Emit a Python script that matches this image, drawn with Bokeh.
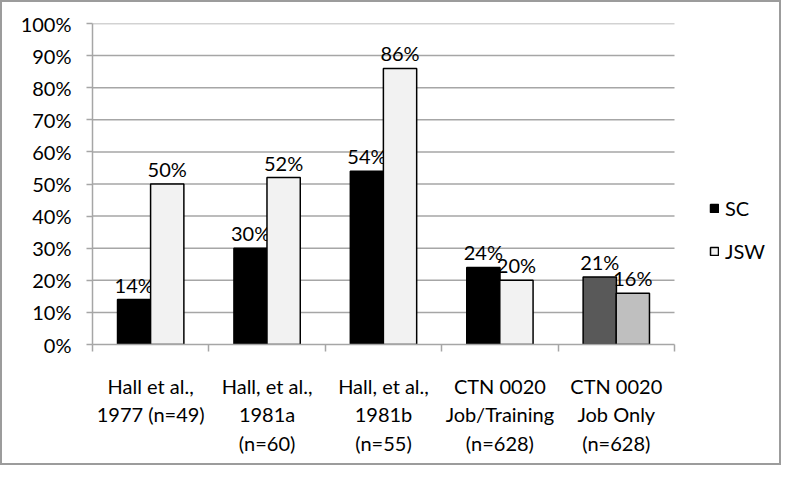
from bokeh.plotting import figure
from bokeh.models import (Range1d, FixedTicker, NumeralTickFormatter, Legend, LegendItem,
                          ColumnDataSource)
from bokeh.core.properties import value
from bokeh.embed import file_html
from bokeh.resources import INLINE

# ---- data ----
categories = ["Hall et al.,\n1977 (n=49)", "Hall, et al.,\n1981a\n(n=60)",
              "Hall, et al.,\n1981b\n(n=55)", "CTN 0020\nJob/Training\n(n=628)",
              "CTN 0020\nJob Only\n(n=628)"]
sc_values = [14, 30, 54, 24, 21]
jsw_values = [50, 52, 86, 20, 16]
series_names = ["SC", "JSW"]
y_ticks = [0, 0.1, 0.2, 0.3, 0.4, 0.5, 0.6, 0.7, 0.8, 0.9, 1.0]

# ---- style ----
FONT = "Lato"
FS = "20px"
GRID = "#a6a6a6"
sc_colors = ["#000000", "#000000", "#000000", "#000000", "#595959"]
jsw_colors = ["#f2f2f2", "#f2f2f2", "#f2f2f2", "#f2f2f2", "#bfbfbf"]
bar_w = 0.286
off = 0.142

n = len(categories)
centers = [i + 0.5 for i in range(n)]
sc_src = ColumnDataSource(dict(x=[c - off for c in centers], top=[v / 100 for v in sc_values],
                               color=sc_colors, label=[f"{v}%" for v in sc_values]))
jsw_src = ColumnDataSource(dict(x=[c + off for c in centers], top=[v / 100 for v in jsw_values],
                                color=jsw_colors, label=[f"{v}%" for v in jsw_values]))

# plot area is 582px for the 5 groups; the frame extends right over the legend area
FRAME_W = 691
p = figure(width=781, height=465, output_backend="svg", toolbar_location=None,
           x_range=Range1d(0, n * FRAME_W / 582), y_range=Range1d(0, 1))
p.min_border_left = 90
p.min_border_top = 21
p.min_border_right = 0
p.min_border_bottom = 123
p.outline_line_color = None
p.background_fill_color = "white"
p.border_fill_color = "white"
p.styles = {"border": "2px solid #9c9c9c"}

# grid lines limited to the category area
p.xgrid.visible = False
p.ygrid.visible = False
p.segment(x0=0, x1=n, y0=y_ticks[1:], y1=y_ticks[1:], line_color=GRID, line_width=1.5)

# y axis
p.yaxis.ticker = FixedTicker(ticks=y_ticks)
p.yaxis.formatter = NumeralTickFormatter(format="0%")
p.yaxis.axis_line_color = GRID
p.yaxis.axis_line_width = 1.5
p.yaxis.major_tick_line_color = GRID
p.yaxis.major_tick_line_width = 1.5
p.yaxis.major_tick_out = 6
p.yaxis.major_tick_in = 0
p.yaxis.minor_tick_line_color = None
p.yaxis.major_label_text_font = FONT
p.yaxis.major_label_text_font_size = FS
p.yaxis.major_label_text_color = "#000000"
p.yaxis.major_label_standoff = 15

# x axis: labels at centers, boundary ticks as minor ticks
p.xaxis.bounds = (0, n)
p.xaxis.ticker = FixedTicker(ticks=centers, minor_ticks=list(range(n + 1)))
p.xaxis.major_label_overrides = {c: lab for c, lab in zip(centers, categories)}
p.xaxis.axis_line_color = GRID
p.xaxis.axis_line_width = 1.5
p.xaxis.major_tick_line_color = None
p.xaxis.major_tick_out = 0
p.xaxis.major_tick_in = 0
p.xaxis.minor_tick_line_color = GRID
p.xaxis.minor_tick_line_width = 1.5
p.xaxis.minor_tick_out = 7
p.xaxis.minor_tick_in = 0
p.xaxis.major_label_text_font = FONT
p.xaxis.major_label_text_font_size = FS
p.xaxis.major_label_text_color = "#000000"
p.xaxis.major_label_standoff = 22

# bars and labels (SC first, JSW drawn over)
r_sc = p.vbar(x="x", top="top", bottom=0, width=bar_w, source=sc_src,
              fill_color="color", line_color="black", line_width=1.5)
p.text(x="x", y="top", text="label", source=sc_src, text_align="center",
       text_baseline="alphabetic", y_offset=-15, text_font=value(FONT),
       text_font_size=FS, text_color="#000000")
r_jsw = p.vbar(x="x", top="top", bottom=0, width=bar_w, source=jsw_src,
               fill_color="color", line_color="black", line_width=1.5)
p.text(x="x", y="top", text="label", source=jsw_src, text_align="center",
       text_baseline="alphabetic", y_offset=-15, text_font=value(FONT),
       text_font_size=FS, text_color="#000000")

legend = Legend(items=[LegendItem(label=series_names[0], renderers=[r_sc], index=0),
                       LegendItem(label=series_names[1], renderers=[r_jsw], index=0)],
                location=(617, 81), orientation="vertical",
                glyph_width=10, glyph_height=10, label_height=20, spacing=19,
                padding=0, margin=0, label_standoff=6,
                label_text_font=FONT, label_text_font_size=FS,
                label_text_color="#000000",
                border_line_color=None, background_fill_alpha=0)
p.add_layout(legend)

open("out.html", "w").write(file_html(p, INLINE))
